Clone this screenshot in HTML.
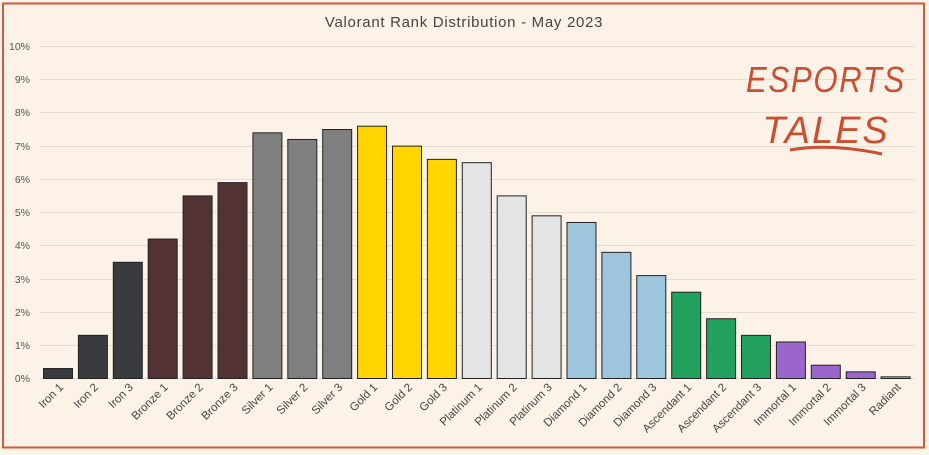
<!DOCTYPE html>
<html><head><meta charset="utf-8"><style>
body{margin:0;background:#fff;}
svg{display:block;font-family:"Liberation Sans",sans-serif;}
</style></head><body>
<svg width="929" height="455" xmlns="http://www.w3.org/2000/svg">
<rect x="0" y="0" width="929" height="455" fill="#fdf3e8"/>
<rect x="3" y="3.5" width="921" height="444" fill="#fcf2e7" stroke="#d4583a" stroke-width="2"/>
<text x="464" y="27" text-anchor="middle" font-size="15" fill="#444" letter-spacing="0.7">Valorant Rank Distribution  - May 2023</text>
<g stroke="#e6ddd2" stroke-width="1">
<line x1="40" x2="915" y1="46.5" y2="46.5"/><line x1="40" x2="915" y1="79.5" y2="79.5"/><line x1="40" x2="915" y1="112.5" y2="112.5"/><line x1="40" x2="915" y1="146.5" y2="146.5"/><line x1="40" x2="915" y1="179.5" y2="179.5"/><line x1="40" x2="915" y1="212.5" y2="212.5"/><line x1="40" x2="915" y1="245.5" y2="245.5"/><line x1="40" x2="915" y1="279.5" y2="279.5"/><line x1="40" x2="915" y1="312.5" y2="312.5"/><line x1="40" x2="915" y1="345.5" y2="345.5"/><line x1="40" x2="915" y1="378.5" y2="378.5"/>
</g>
<g font-size="10.5" fill="#555" text-anchor="end">
<text x="30" y="50">10%</text><text x="30" y="83">9%</text><text x="30" y="116">8%</text><text x="30" y="150">7%</text><text x="30" y="183">6%</text><text x="30" y="216">5%</text><text x="30" y="249">4%</text><text x="30" y="283">3%</text><text x="30" y="316">2%</text><text x="30" y="349">1%</text><text x="30" y="382">0%</text>
</g>
<g id="bars" stroke="#222" stroke-width="1"></g>
<g id="labels" font-size="11.5" fill="#444" text-anchor="end"></g>
<g fill="#c94f33" font-family="Liberation Sans, sans-serif" font-style="italic">
<text x="826" y="92" text-anchor="middle" font-size="36" letter-spacing="2" textLength="160" lengthAdjust="spacingAndGlyphs">ESPORTS</text>
<text x="826" y="143" text-anchor="middle" font-size="38" letter-spacing="2">TALES</text>
<path d="M790 150 Q830 143 882 154" stroke="#c94f33" stroke-width="3" fill="none"/>
</g>
<script>
var v=[0.3,1.3,3.5,4.2,5.5,5.9,7.4,7.2,7.5,7.6,7.0,6.6,6.5,5.5,4.9,4.7,3.8,3.1,2.6,1.8,1.3,1.1,0.4,0.2,0.05];
var n=["Iron 1","Iron 2","Iron 3","Bronze 1","Bronze 2","Bronze 3","Silver 1","Silver 2","Silver 3","Gold 1","Gold 2","Gold 3","Platinum 1","Platinum 2","Platinum 3","Diamond 1","Diamond 2","Diamond 3","Ascendant 1","Ascendant 2","Ascendant 3","Immortal 1","Immortal 2","Immortal 3","Radiant"];
var c=["#3a3b3f","#3a3b3f","#3a3b3f","#523234","#523234","#523234","#7f7f7f","#7f7f7f","#7f7f7f","#ffd500","#ffd500","#ffd500","#e4e4e4","#e4e4e4","#e4e4e4","#9dc6dc","#9dc6dc","#9dc6dc","#22a05e","#22a05e","#22a05e","#9a66cc","#9a66cc","#9a66cc","#e8b860"];
var b=document.getElementById("bars"),l=document.getElementById("labels"),ns="http://www.w3.org/2000/svg";
for(var i=0;i<25;i++){var cx=58+i*34.9,h=v[i]*33.2;
var r=document.createElementNS(ns,"rect");r.setAttribute("x",cx-14.5);r.setAttribute("y",378.5-h);r.setAttribute("width",29);r.setAttribute("height",h);r.setAttribute("fill",c[i]);b.appendChild(r);
var t=document.createElementNS(ns,"text");t.setAttribute("transform","translate("+(cx+6)+",388) rotate(-45)");t.textContent=n[i];l.appendChild(t);}
</script>
</svg>
</body></html>
